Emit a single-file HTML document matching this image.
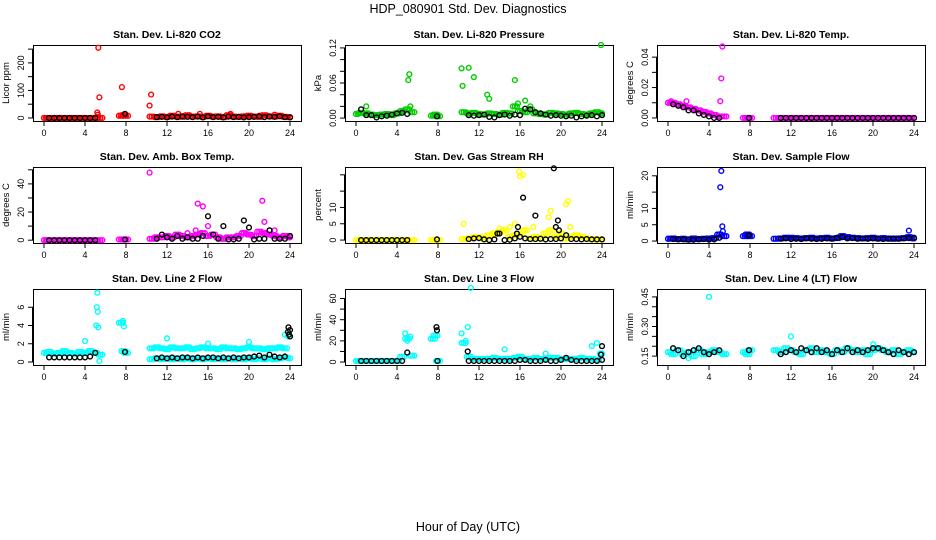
<!DOCTYPE html>
<html><head><meta charset="utf-8"><style>
html,body{margin:0;padding:0;background:#fff}
svg{display:block;font-family:"Liberation Sans",sans-serif}
</style></head><body>
<svg id="chart" width="936" height="540" viewBox="0 0 936 540" xmlns="http://www.w3.org/2000/svg">
<text x="468" y="13" font-size="12.5" text-anchor="middle">HDP_080901  Std. Dev. Diagnostics</text>
<text x="468" y="531" font-size="12.5" text-anchor="middle">Hour of Day (UTC)</text>
</svg>
<script>
// hour categories (x values)
const gridColor = [0,0.5,1,1.5,2,2.5,3,3.5,4,4.5,5,5.5,7.5,7.75,8,10.5,11,11.5,12,12.5,13,13.5,14,14.5,15,15.5,16,16.5,17,17.5,18,18.5,19,19.5,20,20.5,21,21.5,22,22.5,23,23.5,24];
const gridBlack = [0.5,1,1.5,2,2.5,3,3.5,4,4.5,5,7.9,11,11.5,12,12.5,13,13.5,14,14.5,15,15.5,16,16.5,17,17.5,18,18.5,19,19.5,20,20.5,21,21.5,22,22.5,23,23.5,24];
const gridLate = [10.5,11,11.5,12,12.5,13,13.5,14,14.5,15,15.5,16,16.5,17,17.5,18,18.5,19,19.5,20,20.5,21,21.5,22,22.5,23,23.5,24];
const xTicks = [0,4,8,12,16,20,24];

// Panel 1: CO2
const co2Col = [0,0,0,0,0,0,0,0,0,0,0,0,8,10,8,5,3,6,4,8,5,4,10,5,6,4,8,5,6,3,10,5,4,6,8,5,4,10,6,5,8,4,3];
const co2Blk = [0,0,0,0,0,0,0,0,0,0,15,3,4,2,5,3,6,4,3,5,2,6,3,4,2,5,3,4,2,3,4,6,3,5,4,6,3,2];
const co2SpikeH = [5.3,5.4,5.2,5.25,7.6,10.3,10.45,13.1,15.2,18.2,22.5,21];
const co2SpikeV = [255,75,20,12,112,45,85,15,15,15,12,8];
// Panel 2: Pressure
const presCol = [.007,.009,.008,.006,.005,.006,.007,.005,.008,.012,.015,.01,.004,.006,.003,.01,.008,.009,.007,.006,.008,.007,.006,.009,.008,.02,.012,.01,.015,.008,.007,.006,.009,.008,.007,.006,.008,.009,.007,.006,.008,.01,.008];
const presBlk = [.015,.005,.005,.001,.003,.004,.006,.008,.009,.007,.003,.005,.004,.005,.006,.002,.001,.005,.006,.004,.006,.005,.016,.015,.01,.008,.006,.004,.005,.004,.003,.004,.001,.003,.004,.005,.003,.005];
const presSpikeH = [1.0,5.1,5.2,5.3,10.3,10.4,11,11.5,12.8,13,15.5,15.8,16.5,17,23.9];
const presSpikeV = [.02,.065,.075,.02,.085,.055,.086,.07,.04,.033,.065,.025,.03,.02,.125];
// Panel 3: Temp
const tempCol = [.010,.010,.009,.008,.007,.006,.005,.004,.003,.002,.001,.001,0,0,0,0,0,0,0,0,0,0,0,0,0,0,0,0,0,0,0,0,0,0,0,0,0,0,0,0,0,0,0];
const tempBlk = [.009,.008,.007,.005,.005,.003,.002,.001,0,0,0,0,0,0,0,0,0,0,0,0,0,0,0,0,0,0,0,0,0,0,0,0,0,0,0,0,0,0];
const tempSpikeH = [5.3,5.2,5.1,0.3,1.8];
const tempSpikeV = [.047,.026,.011,.011,.011];
// Panel 4: Amb box temp
const ambCol = [0,0,0,0,0,0,0,0,0,0,0,0,.5,.5,.5,1,2,2,3,2,4,3,2,3,4,5,3,4,2,1,2,2,3,5,4,3,6,5,4,3,2,3,2];
const ambBlk = [0,0,0,0,0,0,0,0,0,0,.5,1,4,2,1,3,1,2,1,1,3,17,4,1,10,.5,.5,1,14,9,.5,1,1,7,1,1,1,3];
const ambSpikeH = [10.3,15,15.5,16,14,14.8,21.3,21.5,22,22.5,19.3];
const ambSpikeV = [48,26,24,10,5,7,28,13,7,7,5];
// Panel 5: Gas stream RH
const rhCol = [0,0,0,0,0,0,0,0,0,0,0,0,0,0,0,.3,.5,.8,1,.5,1.5,2,2.5,3,1,1.5,2,3,.5,1,.5,2,3,1,2,.5,1,1.5,1,.5,.3,.2,.2];
const rhBlk = [0,0,0,0,0,0,0,0,0,0,.2,.3,.5,.6,.2,0,.2,2,0,.1,.5,1,.5,.3,.3,.4,.2,.3,.3,.5,1.5,.3,.3,.2,.3,.2,.2,.2];
const rhSpikeH = [10.5,15.9,16.3,16,17.3,18.8,19,20.5,20.7,15.5,15,14,20.9];
const rhSpikeV = [5,21,20,19.5,4,7,9,11,12,5,4,3.5,4];
const rhBlkSpikeH = [16.3,17.5,19.3,19.7,19.5,15.8,15.7,19.8,13.8];
const rhBlkSpikeV = [13,7.5,22,6,4,4,2,3,2];
// Panel 6: Sample flow
const flowCol = [.7,.8,.6,.7,.5,.8,.6,.7,.8,.9,2,1.5,1.5,2,1.5,.7,.8,1,1,.9,.8,.9,1,.8,.9,1,.8,.9,1.5,1.2,1,.9,.8,.9,1,.8,.9,.8,.7,.8,.9,1.2,.8];
const flowBlk = [.6,.5,.5,.4,.4,.5,.6,.4,.5,1,1.8,.7,.8,.6,.7,.6,.8,.7,.6,.7,.8,.7,1,1.2,.8,.9,.7,.8,.7,.8,.7,.6,.7,.8,.7,.8,.9,1];
const flowSpikeH = [5.2,5.1,5.3,5.35,5,7.7,23.5];
const flowSpikeV = [21.5,16.5,4.5,3,2,1.7,3.2];
// Panel 7: Line 2 flow
const l2Col = [1,1.1,.9,1,1.2,1,.9,1.1,1,1.2,1,.8,4.3,1.2,1,1.5,1.6,1.5,1.4,1.6,1.5,1.5,1.6,1.4,1.5,1.6,1.5,1.5,1.4,1.6,1.5,1.5,1.4,1.5,1.6,1.5,1.5,1.4,1.5,1.5,1.6,1.5,2.8];
const l2Low = [.3,.4,.3,.4,.3,.4,.3,.4,.3,.4,.3,.4,.3,.4,.3,.4,.3,.4,.3,.4,.3,.4,.3,.4,.3,.4,.5,.4];
const l2Blk = [.5,.5,.5,.5,.5,.5,.5,.5,.6,1,1.1,.4,.5,.4,.5,.4,.5,.5,.4,.5,.4,.5,.5,.4,.5,.4,.5,.4,.5,.5,.6,.7,.5,.8,.6,.5,.6,3.5];
const l2SpikeH = [4,5.2,5.15,5.25,5.1,5.3,5.4,12,16,20,23.5,7.7,7.8];
const l2SpikeV = [2.3,7.6,6,5.5,4,3.8,.1,2.6,2,2.2,3,4.5,3.9];
const l2BlkSpikeH = [23.85,23.9,24,23.8];
const l2BlkSpikeV = [3.8,3,2.8,3.3];
// Panel 8: Line 3 flow
const l3Col = [1,1,1,1,1,1,1,1,1,5,22,6,22,25,1,18,5,3,3,3,3,4,3,3,3,4,5,3,3,4,3,3,4,4,3,3,3,3,4,3,3,2,8];
const l3Blk = [1,1,1,1,1,1,1,1,1,9,30,1,1,1,1,1,1,1,1,1,1,2,2,1,1,1,2,1,1,2,4,2,1,1,1,1,1,15];
const l3SpikeH = [10.3,10.9,11.2,4.8,5,23,23.5,14.5,18.5,5.3,10.7];
const l3SpikeV = [27,33,70,27,20,15,18,12,8,24,20];
const l3BlkSpikeH = [7.85,7.95,10.9,23.9,24];
const l3BlkSpikeV = [33,1,10,7,2];
// Panel 9: Line 4 (LT) flow
const l4Col = [.17,.16,.18,.16,.17,.15,.18,.16,.17,.18,.17,.16,.17,.16,.18,.18,.17,.19,.18,.17,.16,.18,.19,.17,.18,.17,.16,.18,.17,.19,.18,.17,.18,.16,.18,.19,.18,.17,.18,.16,.17,.18,.17];
const l4Blk = [.19,.18,.15,.17,.18,.19,.17,.16,.17,.18,.18,.16,.17,.18,.17,.19,.18,.17,.19,.17,.18,.16,.18,.17,.19,.17,.18,.17,.18,.19,.19,.18,.17,.16,.18,.17,.16,.17];
const l4SpikeH = [4,12,20,0.5,2];
const l4SpikeV = [.45,.25,.21,.19,.14];

const NS = "http://www.w3.org/2000/svg";
const svg = document.getElementById('chart');
function mk(tag, attrs, parent){ const e=document.createElementNS(NS,tag); for(const k in attrs) e.setAttribute(k,attrs[k]); (parent||svg).appendChild(e); return e; }

const colL = [33,345,657], rowT = [45,167,289], W = 268, H = 76;

function panel(col,row,o){
  const g = mk('g',{});
  
  
  const L=colL[col], T=rowT[row];
  const xs = h => L + 11 + h*10.25;
  const ys = v => T + H - (v - o.ymin)/(o.ymax - o.ymin)*H;
  const t = mk('text',{x:L+W/2,y:T-7,'font-size':10.5,'font-weight':'bold','text-anchor':'middle'},g);
  t.textContent=o.title;
  
  
  const yl = mk('text',{transform:`translate(${L-24},${T+H/2}) rotate(-90)`,'font-size':9.5,'text-anchor':'middle'},g);
  yl.textContent=o.ylab;
  
  
  mk('line',{x1:xs(0),x2:xs(24),y1:T+H+0.5,y2:T+H+0.5,stroke:'#000'},g);
  xTicks.forEach(h=>{
    mk('line',{x1:xs(h),x2:xs(h),y1:T+H,y2:T+H+5,stroke:'#000'},g);
    const tl = mk('text',{x:xs(h),y:T+H+15,'font-size':9,'text-anchor':'middle'},g);
    tl.textContent=h;
    
    
  });
  o.ticks.forEach((v)=>{
    mk('line',{x1:L-5,x2:L,y1:ys(v),y2:ys(v),stroke:'#000'},g);
  });
  o.labels.forEach((s,i)=>{
    const v=o.labelVals[i];
    const tl = mk('text',{transform:`translate(${L-9},${ys(v)}) rotate(-90)`,'font-size':9,'text-anchor':'middle'},g);
    tl.textContent=s;
    
    
  });
  mk('line',{x1:L-0.5,x2:L-0.5,y1:ys(o.ticks[0]),y2:ys(o.ticks[o.ticks.length-1]),stroke:'#000'},g);
  const box = mk('rect',{x:L+0.5,y:T+0.5,width:W,height:H,fill:'none',stroke:'#000'},g);
  
  
  const pts=(hs,vs,color,nm,thick)=>{
    hs.forEach((h,i)=>{
      const offs = thick ? [-0.2,0,0.2] : [0];
      offs.forEach(d=>{
        const c = mk('circle',{cx:xs(Math.min(24,Math.max(0,h+d))),cy:ys(vs[i]),r:2.4,fill:'none',stroke:color,'stroke-width':1.4},g);
        
        
      });
    });
  };
  o.colSeries.forEach((s,i)=>pts(s[0],s[1],o.color,'point-'+o.key,s[0]!==o.colSeries[o.colSeries.length-1][0]));
  o.blkSeries.forEach(s=>pts(s[0],s[1],'#000','point-'+o.key+'-black',false));
}

panel(0,0,{name:'panel-co2',key:'co2',title:'Stan. Dev. Li-820 CO2',ylab:'Licor ppm',ymin:-11,ymax:265,ticks:[0,50,100,150,200,250],labelVals:[0,100,200],labels:['0','100','200'],color:'#ff0000',
  colSeries:[[gridColor,co2Col],[co2SpikeH,co2SpikeV]],blkSeries:[[gridBlack,co2Blk]]});
panel(1,0,{name:'panel-pressure',key:'pressure',title:'Stan. Dev. Li-820 Pressure',ylab:'kPa',ymin:-0.005,ymax:0.125,ticks:[0,.02,.04,.06,.08,.10,.12],labelVals:[0,.06,.12],labels:['0.00','0.06','0.12'],color:'#00cd00',
  colSeries:[[gridColor,presCol],[presSpikeH,presSpikeV]],blkSeries:[[gridBlack,presBlk]]});
panel(2,0,{name:'panel-temp',key:'temp',title:'Stan. Dev. Li-820 Temp.',ylab:'degrees C',ymin:-0.002,ymax:0.048,ticks:[0,.01,.02,.03,.04],labelVals:[0,.02,.04],labels:['0.00','0.02','0.04'],color:'#ff00ff',
  colSeries:[[gridColor,tempCol],[tempSpikeH,tempSpikeV]],blkSeries:[[gridBlack,tempBlk]]});
panel(0,1,{name:'panel-amb-box-temp',key:'amb',title:'Stan. Dev. Amb. Box Temp.',ylab:'degrees C',ymin:-2,ymax:52,ticks:[0,10,20,30,40,50],labelVals:[0,20,40],labels:['0','20','40'],color:'#ff00ff',
  colSeries:[[gridColor,ambCol],[ambSpikeH,ambSpikeV]],blkSeries:[[gridBlack,ambBlk]]});
panel(1,1,{name:'panel-gas-rh',key:'rh',title:'Stan. Dev. Gas Stream RH',ylab:'percent',ymin:-0.9,ymax:22.4,ticks:[0,5,10,15,20],labelVals:[0,5,10],labels:['0','5','10'],color:'#ffff00',
  colSeries:[[gridColor,rhCol],[rhSpikeH,rhSpikeV]],blkSeries:[[gridBlack,rhBlk],[rhBlkSpikeH,rhBlkSpikeV]]});
panel(2,1,{name:'panel-sample-flow',key:'flow',title:'Stan. Dev. Sample Flow',ylab:'ml/min',ymin:-0.6,ymax:22.7,ticks:[0,5,10,15,20],labelVals:[0,5,10,20],labels:['0','5','10','20'],color:'#0000ff',
  colSeries:[[gridColor,flowCol],[flowSpikeH,flowSpikeV]],blkSeries:[[gridBlack,flowBlk]]});
panel(0,2,{name:'panel-line2-flow',key:'line2',title:'Stan. Dev. Line 2 Flow',ylab:'ml/min',ymin:-0.33,ymax:8.0,ticks:[0,2,4,6],labelVals:[0,2,4,6],labels:['0','2','4','6'],color:'#00ffff',
  colSeries:[[gridColor,l2Col],[gridLate,l2Low],[l2SpikeH,l2SpikeV]],blkSeries:[[gridBlack,l2Blk],[l2BlkSpikeH,l2BlkSpikeV]]});
panel(1,2,{name:'panel-line3-flow',key:'line3',title:'Stan. Dev. Line 3 Flow',ylab:'ml/min',ymin:-2.8,ymax:69,ticks:[0,10,20,30,40,50,60],labelVals:[0,20,40,60],labels:['0','20','40','60'],color:'#00ffff',
  colSeries:[[gridColor,l3Col],[l3SpikeH,l3SpikeV]],blkSeries:[[gridBlack,l3Blk],[l3BlkSpikeH,l3BlkSpikeV]]});
panel(2,2,{name:'panel-line4-flow',key:'line4',title:'Stan. Dev. Line 4 (LT) Flow',ylab:'ml/min',ymin:0.105,ymax:0.49,ticks:[.15,.20,.25,.30,.35,.40,.45],labelVals:[.15,.30,.45],labels:['0.15','0.30','0.45'],color:'#00ffff',
  colSeries:[[gridColor,l4Col],[l4SpikeH,l4SpikeV]],blkSeries:[[gridBlack,l4Blk]]});
</script>
</body></html>
